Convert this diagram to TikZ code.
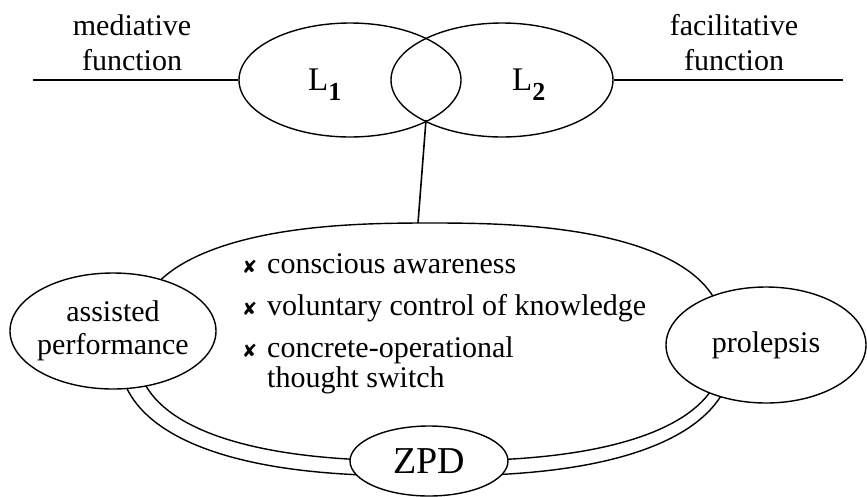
\documentclass[tikz,border=0pt]{standalone}
\usepackage{fontspec}
\setmainfont{Liberation Serif}
\newfontfamily\symfont{DejaVu Sans}
\usetikzlibrary{shapes.geometric}
\newcommand{\bulx}{\raisebox{-0.5pt}{\fontsize{18}{18}\symfont ✘}}
\begin{document}
\begin{tikzpicture}[x=1pt,y=-1pt,
  oval/.style={ellipse, draw, line width=1.4pt, inner sep=0pt},
  whiteoval/.style={oval, fill=white},
  lbl/.style={font=\fontsize{30}{35}\selectfont, align=center, inner sep=0pt},
  shapeline/.style={line width=1.4pt},
  armline/.style={line width=2pt},
  stemline/.style={line width=1.6pt}]
\useasboundingbox (0,0) rectangle (867,496);

% big rounded shape (inner line) and outer band
\draw[shapeline] plot[smooth cycle, domain=1:359, samples=180, variable=\t]
  ({430+294*cos(\t)*abs(cos(\t))^(-0.2)}, {342-119*sin(\t)*abs(sin(\t))^(-0.2)});
\draw[shapeline] plot[smooth, domain=191:349, samples=80, variable=\t]
  ({426+308*cos(\t)*abs(cos(\t))^(-0.2)}, {342-134*sin(\t)*abs(sin(\t))^(-0.2)});

% L1 / L2 ellipses
\node[oval, minimum width=222pt, minimum height=114pt] (L1) at (350,80) {};
\node[oval, minimum width=222pt, minimum height=114pt] (L2) at (502,80) {};
\node[anchor=base west, inner sep=0pt] (L1t) at (308,90)
  {\fontsize{33}{33}\selectfont L\raisebox{-10pt}{\fontsize{26}{26}\selectfont\bfseries 1}};
\node[anchor=base west, inner sep=0pt] (L2t) at (512,90)
  {\fontsize{33}{33}\selectfont L\raisebox{-10pt}{\fontsize{26}{26}\selectfont\bfseries 2}};

% side labels and arms
\node[lbl, anchor=north] (med) at (132,14) {mediative\\function};
\node[lbl, anchor=north] (fac) at (734,14) {facilitative\\function};
\coordinate (armL) at (33,80);
\coordinate (armR) at (843,80);
\draw[armline] (armL) -- (L1.west);
\draw[armline] (L2.east) -- (armR);

% stem from the overlap to the big shape
\coordinate (meet) at (426,120);
\coordinate (top) at (418,223);
\draw[stemline] (meet) -- (top);

% satellites
\node[whiteoval, minimum width=206pt, minimum height=116pt, inner xsep=-4pt,
  font=\fontsize{30}{33}\selectfont, align=center] (ap) at (113,331) {assisted\\performance};
\node[whiteoval, minimum width=200pt, minimum height=116pt,
  font=\fontsize{30}{33}\selectfont] (pro) at (766,345) {prolepsis};
\node[whiteoval, minimum width=158pt, minimum height=70pt,
  font=\fontsize{38}{38}\selectfont] (zpd) at (429,461) {ZPD};

% bullet list
\node[anchor=base west, inner sep=0pt, font=\fontsize{30}{30}\selectfont] (items) at (242,273)
 {\begin{tabular}[t]{@{}l@{}l@{}}
  \makebox[25pt][l]{\bulx} & conscious awareness\\[12pt]
  \makebox[25pt][l]{\bulx} & voluntary control of knowledge\\[12pt]
  \makebox[25pt][l]{\bulx} & concrete-operational\\
   & thought switch
  \end{tabular}};
\end{tikzpicture}
\end{document}
